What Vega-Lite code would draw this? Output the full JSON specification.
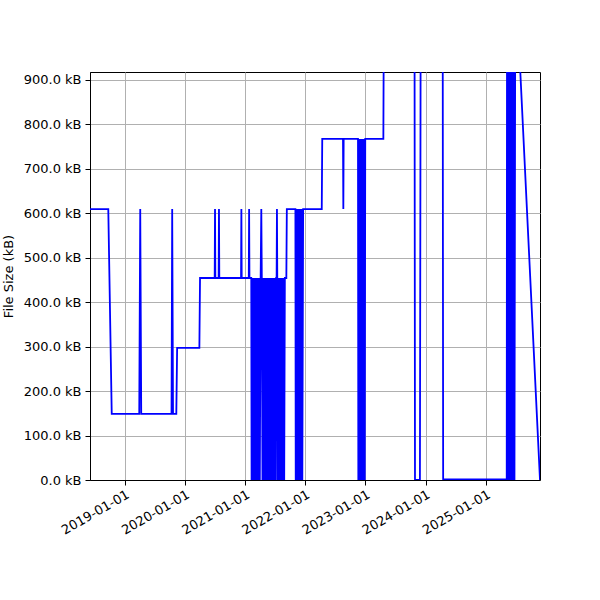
{
  "$schema": "https://vega.github.io/schema/vega-lite/v6.json",
  "width": 450,
  "height": 408,
  "autosize": "none",
  "padding": {"left": 90, "top": 72, "right": 60, "bottom": 120},
  "background": "white",
  "data": {
    "values": [
      {"date": "2018-06-04", "size": 609},
      {"date": "2018-09-23", "size": 609},
      {"date": "2018-10-14", "size": 148.5},
      {"date": "2019-03-30", "size": 148.5},
      {"date": "2019-04-05", "size": 609},
      {"date": "2019-04-11", "size": 148.5},
      {"date": "2019-10-12", "size": 148.5},
      {"date": "2019-10-16", "size": 609},
      {"date": "2019-10-21", "size": 148.5},
      {"date": "2019-11-10", "size": 148.5},
      {"date": "2019-11-15", "size": 297},
      {"date": "2020-03-29", "size": 297},
      {"date": "2020-04-02", "size": 454},
      {"date": "2020-06-30", "size": 454},
      {"date": "2020-07-02", "size": 609},
      {"date": "2020-07-04", "size": 454},
      {"date": "2020-07-24", "size": 454},
      {"date": "2020-07-26", "size": 609},
      {"date": "2020-07-28", "size": 454},
      {"date": "2020-12-07", "size": 454},
      {"date": "2020-12-09", "size": 609},
      {"date": "2020-12-11", "size": 454},
      {"date": "2021-01-23", "size": 454},
      {"date": "2021-01-25", "size": 609},
      {"date": "2021-01-27", "size": 454},
      {"date": "2021-02-07", "size": 454},
      {"date": "2021-02-09", "size": 0},
      {"date": "2021-02-14", "size": 454},
      {"date": "2021-02-19", "size": 0},
      {"date": "2021-02-24", "size": 454},
      {"date": "2021-03-01", "size": 0},
      {"date": "2021-03-06", "size": 454},
      {"date": "2021-03-11", "size": 0},
      {"date": "2021-03-16", "size": 454},
      {"date": "2021-03-21", "size": 0},
      {"date": "2021-03-26", "size": 454},
      {"date": "2021-03-31", "size": 0},
      {"date": "2021-04-05", "size": 454},
      {"date": "2021-04-09", "size": 609},
      {"date": "2021-04-12", "size": 454},
      {"date": "2021-04-16", "size": 0},
      {"date": "2021-04-21", "size": 454},
      {"date": "2021-04-26", "size": 0},
      {"date": "2021-05-01", "size": 454},
      {"date": "2021-05-06", "size": 0},
      {"date": "2021-05-11", "size": 454},
      {"date": "2021-05-16", "size": 0},
      {"date": "2021-05-21", "size": 454},
      {"date": "2021-05-26", "size": 0},
      {"date": "2021-05-31", "size": 454},
      {"date": "2021-06-05", "size": 0},
      {"date": "2021-06-10", "size": 454},
      {"date": "2021-06-15", "size": 0},
      {"date": "2021-06-20", "size": 454},
      {"date": "2021-06-25", "size": 0},
      {"date": "2021-06-30", "size": 454},
      {"date": "2021-07-05", "size": 0},
      {"date": "2021-07-08", "size": 454},
      {"date": "2021-07-11", "size": 454},
      {"date": "2021-07-13", "size": 609},
      {"date": "2021-07-15", "size": 454},
      {"date": "2021-07-17", "size": 0},
      {"date": "2021-07-22", "size": 454},
      {"date": "2021-07-27", "size": 0},
      {"date": "2021-08-01", "size": 454},
      {"date": "2021-08-06", "size": 0},
      {"date": "2021-08-11", "size": 454},
      {"date": "2021-08-16", "size": 0},
      {"date": "2021-08-21", "size": 454},
      {"date": "2021-08-26", "size": 0},
      {"date": "2021-08-30", "size": 454},
      {"date": "2021-09-08", "size": 454},
      {"date": "2021-09-11", "size": 609},
      {"date": "2021-11-02", "size": 609},
      {"date": "2021-11-04", "size": 0},
      {"date": "2021-11-09", "size": 609},
      {"date": "2021-11-14", "size": 0},
      {"date": "2021-11-19", "size": 609},
      {"date": "2021-11-24", "size": 0},
      {"date": "2021-11-29", "size": 609},
      {"date": "2021-12-04", "size": 0},
      {"date": "2021-12-09", "size": 609},
      {"date": "2021-12-14", "size": 0},
      {"date": "2021-12-19", "size": 609},
      {"date": "2022-04-11", "size": 609},
      {"date": "2022-04-14", "size": 766.6},
      {"date": "2022-08-18", "size": 766.6},
      {"date": "2022-08-20", "size": 609},
      {"date": "2022-08-22", "size": 766.6},
      {"date": "2022-11-17", "size": 766.6},
      {"date": "2022-11-19", "size": 0},
      {"date": "2022-11-24", "size": 766.6},
      {"date": "2022-11-29", "size": 0},
      {"date": "2022-12-04", "size": 766.6},
      {"date": "2022-12-09", "size": 0},
      {"date": "2022-12-14", "size": 766.6},
      {"date": "2022-12-19", "size": 0},
      {"date": "2022-12-24", "size": 766.6},
      {"date": "2022-12-28", "size": 0},
      {"date": "2022-12-31", "size": 766.6},
      {"date": "2023-04-20", "size": 766.6},
      {"date": "2023-04-24", "size": 1150},
      {"date": "2023-10-26", "size": 1150},
      {"date": "2023-10-29", "size": 0.5},
      {"date": "2023-11-28", "size": 0.5},
      {"date": "2023-12-03", "size": 1150},
      {"date": "2024-04-14", "size": 1150},
      {"date": "2024-04-17", "size": 1.5},
      {"date": "2025-05-08", "size": 1.5},
      {"date": "2025-05-10", "size": 1150},
      {"date": "2025-05-15", "size": 0},
      {"date": "2025-05-20", "size": 1150},
      {"date": "2025-05-25", "size": 0},
      {"date": "2025-05-30", "size": 1150},
      {"date": "2025-06-04", "size": 0},
      {"date": "2025-06-09", "size": 1150},
      {"date": "2025-06-14", "size": 0},
      {"date": "2025-06-19", "size": 1150},
      {"date": "2025-06-24", "size": 0},
      {"date": "2025-06-29", "size": 1150},
      {"date": "2025-11-26", "size": 0}
    ]
  },
  "mark": {"type": "line", "color": "#0000ff", "strokeWidth": 1.8, "clip": true},
  "encoding": {
    "x": {
      "field": "date",
      "type": "temporal",
      "title": null,
      "scale": {"nice": false},
      "axis": {
        "format": "%Y-%m-%d",
        "tickCount": {"interval": "year", "step": 1},
        "labelAngle": -30,
        "labelAlign": "right",
        "labelBaseline": "top",
        "labelPadding": 3,
        "labelOverlap": false
      }
    },
    "y": {
      "field": "size",
      "type": "quantitative",
      "title": "File Size (kB)",
      "scale": {"domain": [0, 917], "nice": false, "zero": true},
      "axis": {
        "values": [0, 100, 200, 300, 400, 500, 600, 700, 800, 900],
        "labelExpr": "format(datum.value, '.1f') + ' kB'",
        "titleX": -82,
        "titleBaseline": "middle"
      }
    }
  },
  "config": {
    "font": "DejaVu Sans",
    "view": {"stroke": "black", "strokeWidth": 1},
    "axis": {
      "labelFont": "DejaVu Sans",
      "titleFont": "DejaVu Sans",
      "labelFontSize": 13,
      "titleFontSize": 13,
      "titleFontWeight": "normal",
      "labelColor": "black",
      "titleColor": "black",
      "domainColor": "black",
      "tickColor": "black",
      "tickSize": 5,
      "labelPadding": 4,
      "gridColor": "#b0b0b0",
      "gridWidth": 1,
      "gridOpacity": 1
    }
  }
}
